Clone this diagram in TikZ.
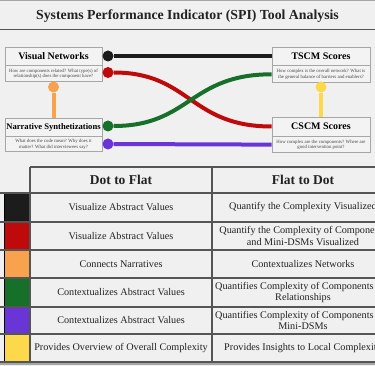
\documentclass[tikz,border=0pt]{standalone}
\usepackage{fontspec}
\setmainfont{Liberation Serif}
\definecolor{bggray}{HTML}{F0F0F0}
\definecolor{boxgray}{HTML}{F3F3F3}
\definecolor{framegray}{HTML}{A6A6A6}
\definecolor{rulegray}{HTML}{555555}
\definecolor{notegray}{HTML}{444444}
\definecolor{celltext}{HTML}{222222}
\definecolor{lineblack}{HTML}{1C1C1C}
\definecolor{linered}{HTML}{BE0A0A}
\definecolor{lineorange}{HTML}{F9A24E}
\definecolor{linegreen}{HTML}{16702A}
\definecolor{linepurple}{HTML}{6A35D6}
\definecolor{lineyellow}{HTML}{FCD84A}
\tikzset{
boxtitle/.style={
		draw=framegray,
		fill=boxgray,
		line width=0.8pt,
		minimum width=97pt,
		minimum height=18pt,
		inner sep=0pt,
		font=\bfseries\fontsize{10}{12}\selectfont
	},
boxnote/.style={
		draw=framegray,
		fill=boxgray,
		line width=0.8pt,
		minimum width=97pt,
		minimum height=16pt,
		inner sep=0pt,
		align=center,
		text=notegray,
		font=\fontsize{4.8}{5.4}\selectfont
	},
knob/.style={circle, fill=#1, inner sep=0pt, minimum size=11pt},
wire/.style={draw=#1, line width=4pt},
cell/.style={align=center, text=celltext, font=\fontsize{10.2}{11.4}\selectfont},
headcell/.style={text=celltext, font=\bfseries\fontsize{13.5}{15}\selectfont},
swatch/.style={draw=black, line width=0.5pt, fill=#1},
tablerule/.style={draw=rulegray, line width=1.3pt}
}
\begin{document}
\begin{tikzpicture}[x=1pt,y=-1pt]
\fill[bggray] (0,0) rectangle (375,366);
\useasboundingbox (0,0) rectangle (375,366);
\clip (0,0) rectangle (375,366);
% title
\draw[framegray, line width=1pt] (0,1) -- (375,1);
\draw[rulegray, line width=1pt] (0,30) -- (375,30);
\node[text=celltext, font=\bfseries\fontsize{13.8}{16}\selectfont] (title) at (187.5,16.5) {Systems Performance Indicator (SPI) Tool Analysis};
% boxes
\node[boxtitle] (vnet) at (53.5,56) {Visual Networks};
\node[boxnote, anchor=north] (vnetq) at (vnet.south) {How are components related? What type(s) of\\relationship(s) does the component have?};
\node[boxtitle, font=\bfseries\fontsize{8.6}{10}\selectfont] (narr) at (53.5,127) {Narrative Synthetizations};
\node[boxnote, minimum height=15pt, anchor=north] (narrq) at (narr.south) {What does the code mean? Why does it\\matter? What did interviewees say?};
\node[boxtitle, minimum width=98pt] (tscm) at (321,56) {TSCM Scores};
\node[boxnote, minimum width=98pt, minimum height=17pt, anchor=north] (tscmq) at (tscm.south) {How complex is the overall network? What is\\the general balance of barriers and enablers?};
\node[boxtitle, minimum width=98pt, minimum height=19pt] (cscm) at (321,126.5) {CSCM Scores};
\node[boxnote, minimum width=98pt, anchor=north] (cscmq) at (cscm.south) {How complex are the components? Where are\\good intervention point?};
% knobs
\node[knob=lineblack] (kblack) at (108,56) {};
\node[knob=linered] (kred) at (108,72.5) {};
\node[knob=lineorange] (korange) at (53.5,87) {};
\node[knob=linegreen] (kgreen) at (108,126) {};
\node[knob=linepurple] (kpurple) at (108,144) {};
\node[knob=lineyellow] (kyellow) at (321,87) {};
% wires
\draw[wire=lineblack] (kblack) -- (tscm);
\draw[wire=lineorange] (korange) -- (narr);
\draw[wire=lineyellow] (kyellow) -- (cscm);
\draw[wire=linered] (kred) .. controls +(82,0) and +(-82,0) .. (cscm.west);
\draw[wire=linegreen] (kgreen) .. controls +(82,0) and +(-82,0) .. (tscmq.west);
\draw[wire=linepurple] (kpurple) -- (cscmq);
% table
\draw[swatch=lineblack] (4,193) rectangle (29,222);
\draw[swatch=linered] (4,222) rectangle (29,250);
\draw[swatch=lineorange] (4,250) rectangle (29,278);
\draw[swatch=linegreen] (4,278) rectangle (29,307);
\draw[swatch=linepurple] (4,307) rectangle (29,334);
\draw[swatch=lineyellow] (4,334) rectangle (29,362);
\draw[tablerule] (30,167) -- (375,167);
\foreach \y in {193,222,250,278,307,334,362}
	\draw[tablerule] (0,\y) -- (375,\y);
\draw[tablerule] (30,167) -- (30,362);
\draw[tablerule] (212,167) -- (212,362);
\draw[framegray, line width=2pt] (0,364) -- (375,364);
\node[headcell] (dotflat) at (121,180) {Dot to Flat};
\node[headcell] (flatdot) at (303,180) {Flat to Dot};
\node[cell] (df1) at (121,207.5) {Visualize Abstract Values};
\node[cell] (fd1) at (303,207.5) {Quantify the Complexity Visualized};
\node[cell] (df2) at (121,236) {Visualize Abstract Values};
\node[cell] (fd2) at (303,236) {Quantify the Complexity of Components\\and Mini-DSMs Visualized};
\node[cell] (df3) at (121,264) {Connects Narratives};
\node[cell] (fd3) at (303,264) {Contextualizes Networks};
\node[cell] (df4) at (121,292.5) {Contextualizes Abstract Values};
\node[cell] (fd4) at (303,292.5) {Quantifies Complexity of Components and\\Relationships};
\node[cell] (df5) at (121,320.5) {Contextualizes Abstract Values};
\node[cell] (fd5) at (303,320.5) {Quantifies Complexity of Components and\\Mini-DSMs};
\node[cell] (df6) at (121,348) {Provides Overview of Overall Complexity};
\node[cell] (fd6) at (303,348) {Provides Insights to Local Complexity};
\end{tikzpicture}
\end{document}
